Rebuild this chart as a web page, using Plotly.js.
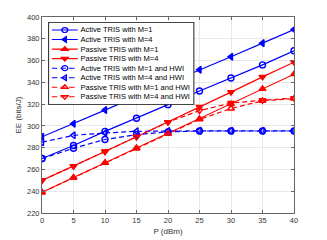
<!DOCTYPE html>
<html><head><meta charset="utf-8">
<script src="https://cdn.plot.ly/plotly-3.0.1.min.js"></script>
<style>html,body{margin:0;padding:0;background:#fff}</style>
</head><body><div id="chart" style="width:327px;height:240px"></div>
<script>
const P = [0, 5, 10, 15, 20, 25, 30, 35, 40];
const activeM1 = [270, 282, 295, 307, 319.5, 332, 344, 356, 369];
const activeM4 = [290, 302, 314.5, 327, 339, 351.5, 363.5, 376, 388.5];
const passiveM1 = [239, 252.5, 266, 279.5, 293, 306.5, 320, 334, 347.5];
const passiveM4 = [250, 263, 276.5, 290, 303.5, 317.5, 331, 345, 358.5];
const activeM1HWI = [270, 279.5, 287.5, 292, 294.5, 295.3, 295.3, 295.3, 295.3];
const activeM4HWI = [285, 291.3, 293.5, 295, 295.3, 295.5, 295.5, 295.5, 295.5];
const passiveM1HWI = [239, 252.5, 266, 279.5, 293, 306, 316, 323, 325];
const passiveM4HWI = [250, 263, 276.5, 290, 303.5, 314, 321, 323.5, 325.5];
const names = ['Active TRIS with M=1', 'Active TRIS with M=4', 'Passive TRIS with M=1', 'Passive TRIS with M=4',
  'Active TRIS with M=1 and HWI', 'Active TRIS with M=4 and HWI', 'Passive TRIS with M=1 and HWI', 'Passive TRIS with M=4 and HWI'];
const xTicks = [0, 5, 10, 15, 20, 25, 30, 35, 40];
const yTicks = [220, 240, 260, 280, 300, 320, 340, 360, 380, 400];

const series = [activeM1, activeM4, passiveM1, passiveM4, activeM1HWI, activeM4HWI, passiveM1HWI, passiveM4HWI];
const colors = ['#0000ff', '#0000ff', '#ff0000', '#ff0000', '#0000ff', '#0000ff', '#ff0000', '#ff0000'];
const symbols = ['circle-open', 'triangle-left', 'triangle-up', 'triangle-down',
  'circle-open', 'triangle-left-open', 'triangle-up-open', 'triangle-down-open'];
const dashes = ['solid', 'solid', 'solid', 'solid', '5px,3px', '5px,3px', '5px,3px', '5px,3px'];

const traces = [];
series.forEach((s, i) => {
  traces.push({x: P, y: s, mode: 'lines+markers', showlegend: false, hoverinfo: 'skip',
    line: {color: colors[i], width: 1.2, dash: dashes[i]},
    marker: {symbol: symbols[i], size: 6, color: colors[i], line: {width: 1.4, color: colors[i]}}});
});
series.forEach((s, i) => {
  traces.push({x: [null], y: [null], name: names[i], mode: 'lines+markers', showlegend: true,
    line: {color: colors[i], width: 2.4, dash: i >= 4 ? '10px,6px' : 'solid'},
    marker: {symbol: symbols[i], size: 11, color: colors[i], line: {width: 2.6, color: colors[i]}}});
});

const axisCommon = {showline: true, mirror: 'ticks', linecolor: '#666', linewidth: 1,
  ticks: 'inside', ticklen: 3, tickcolor: '#666', showgrid: true, gridcolor: '#e8e8e8', gridwidth: 1,
  zeroline: false, tickfont: {family: 'Liberation Sans, Arial, sans-serif', size: 7.5, color: '#333'}};

const layout = {
  width: 327, height: 240,
  margin: {l: 42, r: 33, t: 17, b: 27},
  paper_bgcolor: '#fff', plot_bgcolor: '#fff',
  font: {family: 'Liberation Sans, Arial, sans-serif', color: '#222'},
  xaxis: Object.assign({}, axisCommon, {range: [0, 40], tickvals: xTicks,
    title: {text: 'P (dBm)', standoff: 4, font: {size: 8, family: 'Liberation Sans, Arial, sans-serif', color: '#333'}}}),
  yaxis: Object.assign({}, axisCommon, {range: [220, 400], tickvals: yTicks,
    title: {text: 'EE (bits/J)', standoff: 4, font: {size: 8, family: 'Liberation Sans, Arial, sans-serif', color: '#333'}}}),
  legend: {x: 0.024, y: 0.974, xanchor: 'left', yanchor: 'top', bgcolor: '#fff',
    bordercolor: '#333', borderwidth: 2, itemwidth: 48, tracegroupgap: 0,
    font: {family: 'Liberation Sans, Arial, sans-serif', size: 14, color: '#000'}},
  showlegend: true
};

Plotly.newPlot('chart', traces, layout, {staticPlot: true, displayModeBar: false}).then(() => {
  const lg = document.querySelector('g.legend');
  if (lg) {
    const t = lg.getAttribute('transform') || '';
    lg.setAttribute('transform', t + ' scale(0.54,0.45)');
  }
});
</script></body></html>
